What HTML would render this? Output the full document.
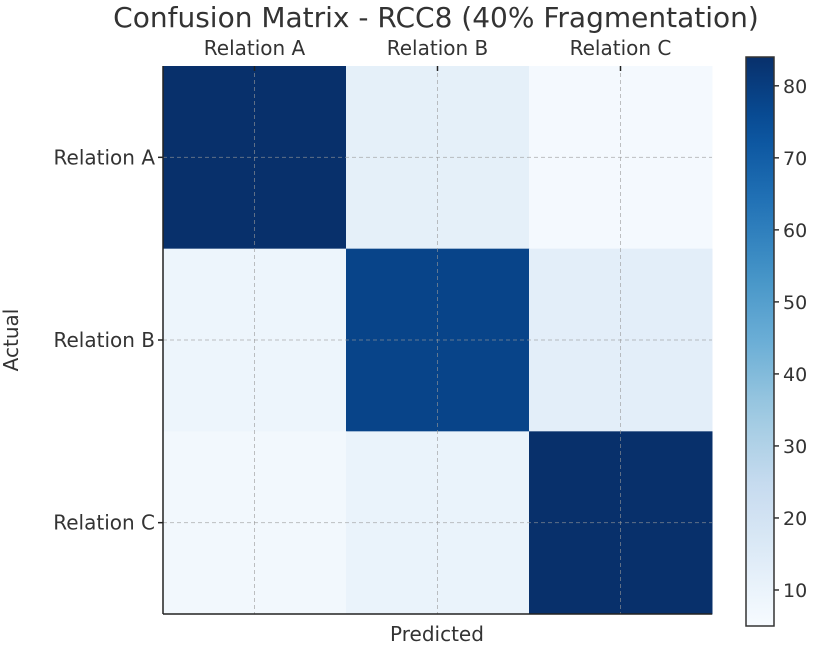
<!DOCTYPE html>
<html><head><meta charset="utf-8"><style>
body{margin:0;background:#fff;}
svg text{font-family:"DejaVu Sans","Liberation Sans",sans-serif;fill:#333;}
</style></head><body>
<svg id="chart" width="818" height="651">
<text x="436" y="27" font-size="28" text-anchor="middle">Confusion Matrix - RCC8 (40% Fragmentation)</text>
<g id="cells"></g>
<g id="grid"></g>
<g id="labels"></g>
<line x1="163" y1="66" x2="163" y2="614" stroke="#222" stroke-width="1.5"/>
<line x1="163" y1="614" x2="712" y2="614" stroke="#222" stroke-width="1.5"/>
<text x="437" y="641" font-size="20" text-anchor="middle">Predicted</text>
<text x="18" y="340" font-size="20" text-anchor="middle" transform="rotate(-90 18 340)">Actual</text>
<defs><linearGradient id="cbg" x1="0" y1="1" x2="0" y2="0"></linearGradient></defs>
<rect x="746" y="57" width="28" height="569" fill="url(#cbg)" stroke="#333" stroke-width="1.5"/>
<g id="cbticks"></g>
</svg>
<script>
const categories=["Relation A","Relation B","Relation C"];
const rowA=[84,12,6];
const rowB=[9,78,13];
const rowC=[7,10,84];
const cbTicks=[10,20,30,40,50,60,70,80];
const vmin=5, vmax=84;
const rows=[rowA,rowB,rowC];
const X0=163,X1=712,Y0=66,Y1=614;
const cw=(X1-X0)/categories.length, ch=(Y1-Y0)/categories.length;
const stops=[[247,251,255],[222,235,247],[198,219,239],[158,202,225],[107,174,214],[66,146,198],[33,113,181],[8,81,156],[8,48,107]];
function blues(t){t=Math.max(0,Math.min(1,t));const p=t*(stops.length-1),i=Math.min(Math.floor(p),stops.length-2),f=p-i;
const c=stops[i].map((v,k)=>Math.round(v+(stops[i+1][k]-v)*f));return `rgb(${c})`;}
const NS="http://www.w3.org/2000/svg";
function mk(tag,attrs,parent){const e=document.createElementNS(NS,tag);for(const k in attrs)e.setAttribute(k,attrs[k]);parent.appendChild(e);return e;}
const xS=i=>X0+i*cw, yS=i=>Y0+i*ch;
const cells=document.getElementById('cells');
rows.forEach((r,i)=>r.forEach((v,j)=>{
 const e=mk('rect',{x:xS(j),y:yS(i),width:cw+0.5,height:ch+0.5,fill:blues((v-vmin)/(vmax-vmin))},cells);
 
 
}));
const grid=document.getElementById('grid'),labels=document.getElementById('labels');
categories.forEach((c,i)=>{
 const cx=xS(i)+cw/2, cy=yS(i)+ch/2;
 const g1=mk('line',{x1:cx,y1:Y0,x2:cx,y2:Y1,stroke:'#999','stroke-dasharray':'4,3','stroke-width':1,opacity:0.6},grid);
 
 
 const g2=mk('line',{x1:X0,y1:cy,x2:X1,y2:cy,stroke:'#999','stroke-dasharray':'4,3','stroke-width':1,opacity:0.6},grid);
 
 
 const t1=mk('line',{x1:cx,y1:Y0,x2:cx,y2:Y0+5,stroke:'#222','stroke-width':1.5},grid);
 
 
 const t2=mk('line',{x1:X0-5,y1:cy,x2:X0,y2:cy,stroke:'#222','stroke-width':1.5},grid);
 
 
 const a=mk('text',{x:cx,y:Y0-11,'font-size':20,'text-anchor':'middle'},labels);a.textContent=c;
 
 
 const b=mk('text',{x:X0-8,y:cy+7,'font-size':20,'text-anchor':'end'},labels);b.textContent=c;
 
 
});
const grad=document.getElementById('cbg');
for(let k=0;k<=20;k++){mk('stop',{offset:(k/20),'stop-color':blues(k/20)},grad);}
const CB0=57,CB1=626,cbY=v=>CB1-(v-vmin)/(vmax-vmin)*(CB1-CB0);
const cbt=document.getElementById('cbticks');
cbTicks.forEach(v=>{
 const y=cbY(v);
 const l=mk('line',{x1:774,y1:y,x2:779,y2:y,stroke:'#333','stroke-width':1.5},cbt);
 
 
 const t=mk('text',{x:783,y:y+7,'font-size':19},cbt);t.textContent=v;
 
 
});
</script>
</body></html>
